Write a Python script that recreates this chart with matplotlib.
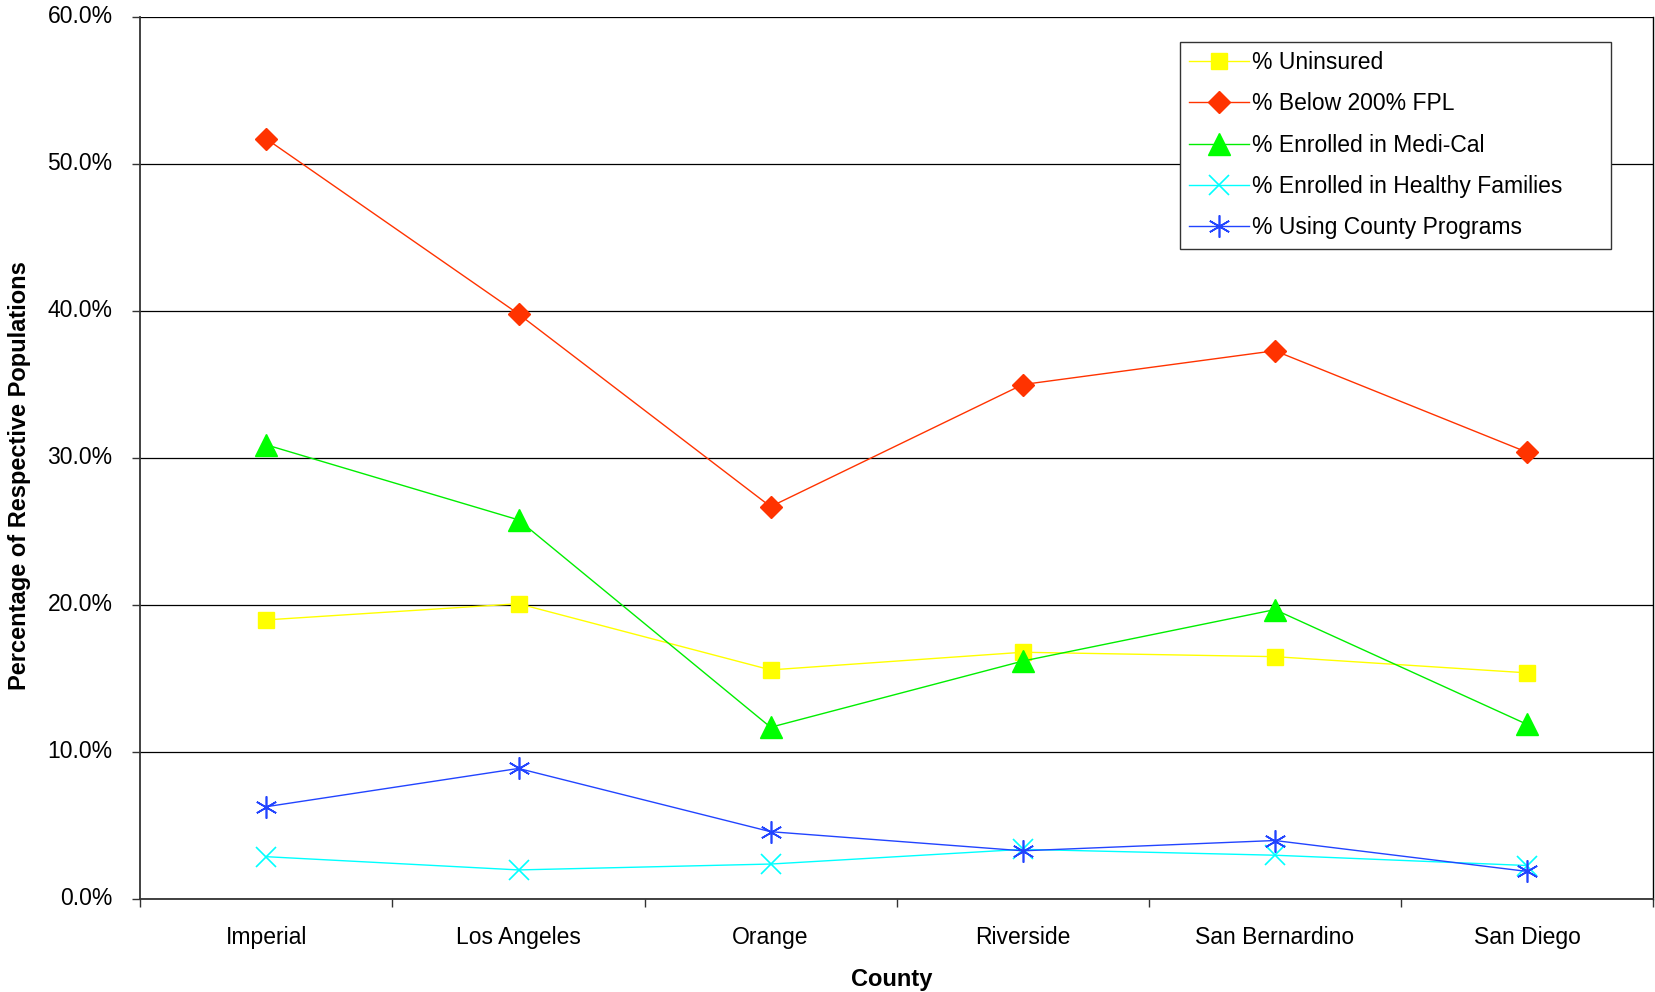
import matplotlib.pyplot as plt
from matplotlib.ticker import FixedLocator, PercentFormatter
from matplotlib.transforms import ScaledTranslation

plt.rcParams['font.family'] = ['Liberation Sans', 'DejaVu Sans']

# data (percent)
counties = ["Imperial", "Los Angeles", "Orange", "Riverside", "San Bernardino", "San Diego"]
uninsured = [19.0, 20.1, 15.6, 16.8, 16.5, 15.4]
below_fpl = [51.7, 39.8, 26.7, 35.0, 37.3, 30.4]
medi_cal = [30.9, 25.8, 11.7, 16.2, 19.7, 11.9]
healthy_families = [2.9, 2.0, 2.4, 3.4, 3.0, 2.3]
county_programs = [6.3, 8.9, 4.6, 3.3, 4.0, 1.9]

fig = plt.figure(figsize=(16.55, 9.92), dpi=100)
ax = fig.add_axes([0.0848, 0.0934, 0.9140, 0.8896])

x = list(range(len(counties)))

ax.plot(x, uninsured, color="#FFFF00", lw=1, marker="s", ms=11.5,
        mec="#FFFF00", mfc="#FFFF00", label="% Uninsured", zorder=3)
ax.plot(x, below_fpl, color="#FF3300", lw=1, marker="D", ms=11,
        mec="#FF3300", mfc="#FF3300", label="% Below 200% FPL", zorder=3)
ax.plot(x, medi_cal, color="#00EE00", lw=1, marker="^", ms=15.5,
        mec="#00FF00", mfc="#00FF00", label="% Enrolled in Medi-Cal", zorder=3)
ax.plot(x, healthy_families, color="#00FFFF", lw=1, marker="x", ms=15,
        mew=1.2, mec="#00FFFF", label="% Enrolled in Healthy Families", zorder=3)
ax.plot(x, county_programs, color="#2244FF", lw=1, marker=(6, 2, 0), ms=16,
        mew=1.2, mec="#2244FF", label="% Using County Programs", zorder=3)

ax.set_xlim(-0.5, len(counties) - 0.5)
ax.set_ylim(0, 60)

# y axis
ax.yaxis.set_major_locator(FixedLocator([0, 10, 20, 30, 40, 50, 60]))
ax.yaxis.set_major_formatter(PercentFormatter(decimals=1))
ax.grid(axis="y", color="#000000", lw=0.9)
ax.set_axisbelow(True)

# x axis: ticks between categories, labels at centres
ax.xaxis.set_major_locator(FixedLocator([i - 0.5 for i in range(len(counties) + 1)]))
ax.xaxis.set_minor_locator(FixedLocator(x))
ax.set_xticklabels([])
ax.set_xticklabels(counties, minor=True)
ax.tick_params(axis="x", which="major", direction="out", length=6, width=1, color="#333333")
ax.tick_params(axis="x", which="minor", length=0, pad=19, labelsize=16.5)
ax.tick_params(axis="y", direction="out", length=6, width=1, color="#333333",
               pad=14, labelsize=16.5)

# y tick labels sit a little above their gridlines
up = ScaledTranslation(0, 3 / 100, fig.dpi_scale_trans)
for lbl in ax.get_yticklabels():
    lbl.set_transform(lbl.get_transform() + up)

for side in ["left", "bottom"]:
    ax.spines[side].set_color("#333333")
    ax.spines[side].set_linewidth(1.3)
ax.spines["right"].set_color("#000000")
ax.spines["right"].set_linewidth(1)
ax.spines["top"].set_visible(False)

ax.set_xlabel("County", fontsize=17, fontweight="bold")
ax.set_ylabel("Percentage of Respective Populations", fontsize=17, fontweight="bold")
ax.xaxis.set_label_coords(0.4968, -0.078)
ax.yaxis.set_label_coords(-0.0725, 0.4797)

leg = ax.legend(loc="upper left", bbox_to_anchor=(0.6873, 0.5, 0.2849, 0.4716),
                mode="expand", borderaxespad=0, fontsize=16.5, frameon=True,
                fancybox=False, edgecolor="#333333", framealpha=1,
                handlelength=2.6, handletextpad=0.15, borderpad=0.4,
                labelspacing=0.8)
leg.get_frame().set_linewidth(1)

fig.savefig("out.png", dpi=100)
